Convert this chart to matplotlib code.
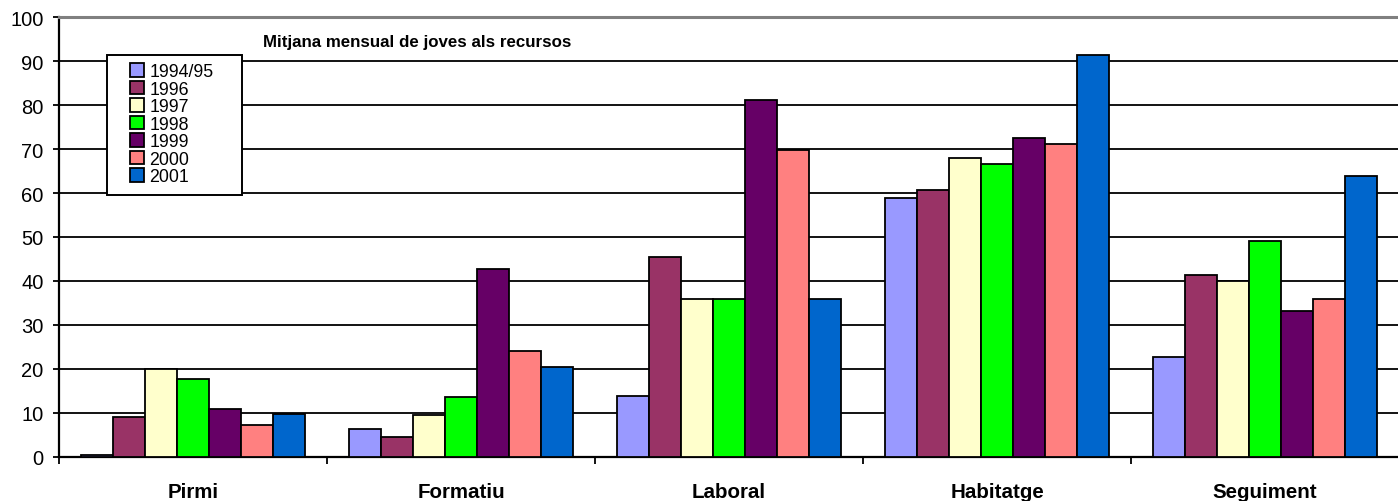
import matplotlib
matplotlib.use("Agg")
import matplotlib.pyplot as plt
from matplotlib.patches import Rectangle
import numpy as np

plt.rcParams['font.family'] = ['Liberation Sans', 'DejaVu Sans']

categories = ["Pirmi", "Formatiu", "Laboral", "Habitatge", "Seguiment"]
series_names = ["1994/95", "1996", "1997", "1998", "1999", "2000", "2001"]
v_1994_95 = [0.5, 6.4, 13.9, 58.8, 22.7]
v_1996 = [9.1, 4.5, 45.5, 60.6, 41.4]
v_1997 = [20.1, 9.6, 36.0, 68.0, 40.1]
v_1998 = [17.8, 13.6, 36.0, 66.6, 49.2]
v_1999 = [10.9, 42.8, 81.2, 72.5, 33.2]
v_2000 = [7.3, 24.2, 69.8, 71.1, 36.0]
v_2001 = [9.7, 20.5, 36.0, 91.3, 63.8]
series_values = [v_1994_95, v_1996, v_1997, v_1998, v_1999, v_2000, v_2001]
colors = ["#9999FF", "#993366", "#FFFFCC", "#00FF00", "#660066", "#FF8080", "#0066CC"]
title = "Mitjana mensual de joves als recursos"

W, H = 1398, 502
fig = plt.figure(figsize=(W / 100, H / 100), dpi=100)
x0, x1 = 59, 1400
y0, y1 = 458, 18
ax = fig.add_axes([x0 / W, 1 - y0 / H, (x1 - x0) / W, (y0 - y1) / H])

n = len(series_names)
bw = 0.119
x = np.arange(len(categories))
handles = []
for i, (name, vals, c) in enumerate(zip(series_names, series_values, colors)):
    b = ax.bar(x + (i - (n - 1) / 2) * bw, vals, width=bw, color=c,
               edgecolor="black", linewidth=1.3, label=name, zorder=3)
    handles.append(b)

ax.set_xlim(-0.5, -0.5 + (x1 - x0) / 268)
ax.set_ylim(0, 100)
ax.set_yticks(np.arange(0, 101, 10))
ax.yaxis.grid(True, color="black", linewidth=1.3, zorder=0)
ax.set_axisbelow(True)

ax.set_xticks(x)
ax.set_xticklabels(categories, fontweight="bold", fontsize=14.8)
ax.tick_params(axis="x", which="major", length=0, pad=18)
ax.set_xticks(np.arange(-0.5, len(categories), 1.0), minor=True)
ax.tick_params(axis="x", which="minor", length=5, width=1.3, direction="out")
ax.tick_params(axis="y", length=4.5, width=1.3, labelsize=14.5, pad=6.5)

for s in ["left", "bottom"]:
    ax.spines[s].set_linewidth(1.6)
    ax.spines[s].set_color("black")
ax.spines["top"].set_color("#808080")
ax.spines["top"].set_linewidth(2.2)
ax.spines["right"].set_visible(False)

fig.text(263 / W, 1 - 42 / H, title, fontsize=12.2, fontweight="bold",
         ha="left", va="center")

# legend frame
fig.patches.append(Rectangle((107 / W, 1 - 196 / H), (242 - 107) / W, (196 - 56) / H,
                             transform=fig.transFigure, facecolor="white",
                             edgecolor="black", linewidth=1.4, zorder=4))
leg = fig.legend(handles=handles, labels=series_names, loc="upper left",
                 bbox_to_anchor=(130 / W, 1 - 64 / H),
                 fontsize=12.8, frameon=False,
                 handlelength=0.8, handleheight=0.8, handletextpad=0.3,
                 labelspacing=0.03, borderpad=0, borderaxespad=0)
leg.set_zorder(5)

fig.savefig("out.png", dpi=100)
